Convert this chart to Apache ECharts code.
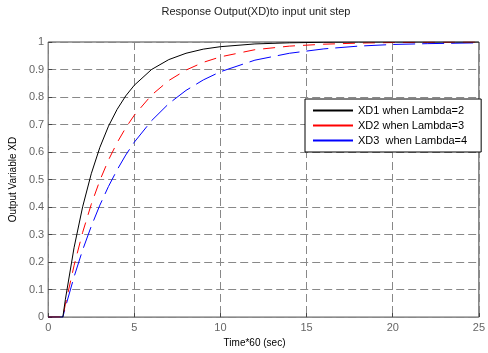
<!DOCTYPE html>
<html>
<head>
<meta charset="utf-8">
<script src="https://cdn.jsdelivr.net/npm/echarts@6/dist/echarts.min.js"></script>
<style>html,body{margin:0;padding:0;background:#fff}#c{width:488px;height:353px}</style>
</head>
<body>
<div id="c"></div>
<script>
var times = [0, 0.85, 1, 1.5, 2, 2.5, 3, 3.5, 4, 4.5, 5, 6, 7, 8, 9, 10, 12, 14, 16, 18, 20, 22, 25];
var xd1 = [0, 0, 0.065, 0.252, 0.401, 0.521, 0.617, 0.694, 0.755, 0.804, 0.843, 0.900, 0.936, 0.959, 0.974, 0.983, 0.993, 0.997, 0.999, 1.0, 1.0, 1.0, 1.0];
var xd2 = [0, 0, 0.047, 0.187, 0.308, 0.410, 0.497, 0.571, 0.634, 0.688, 0.734, 0.807, 0.860, 0.898, 0.926, 0.946, 0.972, 0.985, 0.992, 0.996, 0.998, 0.999, 1.0];
var xd3 = [0, 0, 0.036, 0.146, 0.244, 0.330, 0.407, 0.475, 0.535, 0.589, 0.636, 0.714, 0.776, 0.824, 0.862, 0.892, 0.934, 0.959, 0.975, 0.985, 0.991, 0.994, 0.997];
var seriesNames = ['XD1 when Lambda=2', 'XD2 when Lambda=3', 'XD3  when Lambda=4'];
var seriesColors = ['#000000', '#ff0000', '#0000ff'];
var xTicks = [0, 5, 10, 15, 20, 25];
var yTicks = [0, 0.1, 0.2, 0.3, 0.4, 0.5, 0.6, 0.7, 0.8, 0.9, 1];

function pairs(ys) { return times.map(function (t, i) { return [t, ys[i]]; }); }

var chart = echarts.init(document.getElementById('c'), null, {renderer: 'canvas'});
var font = 'Liberation Sans, Arial, sans-serif';
chart.setOption({
  animation: false,
  backgroundColor: '#fff',
  graphic: [{
    type: 'text', x: 256, y: 12,
    style: {text: 'Response Output(XD)to input unit step', fill: '#222', font: '11px ' + font, textAlign: 'center', textVerticalAlign: 'middle'}
  }],
  grid: {left: 46, right: 8, top: 42, bottom: 18, show: true, borderColor: '#444', borderWidth: 1, backgroundColor: '#fff'},
  legend: {
    orient: 'vertical', left: 305, top: 99,
    backgroundColor: '#fff', borderColor: '#000', borderWidth: 1,
    padding: [5, 14, 5, 8], itemGap: 2, itemWidth: 40, itemHeight: 2,
    icon: 'rect',
    itemStyle: {borderWidth: 0},
    textStyle: {fontSize: 11, fontFamily: font, color: '#000', lineHeight: 13},
    data: seriesNames.map(function (n, i) {
      return {name: n, icon: 'rect', itemStyle: {color: seriesColors[i], borderWidth: 0}};
    })
  },
  xAxis: {
    type: 'value', min: 0, max: 25, interval: 5,
    name: 'Time*60 (sec)', nameLocation: 'middle', nameGap: 11,
    nameTextStyle: {fontSize: 10, fontFamily: font, color: '#000', padding: [0, 18, 0, 0]},
    axisLine: {show: false},
    axisTick: {show: true, inside: true, length: 4, lineStyle: {color: '#444'}},
    axisLabel: {fontSize: 11, fontFamily: font, color: '#666', margin: 5},
    splitLine: {show: true, lineStyle: {color: '#888', type: [8, 4], width: 1}}
  },
  yAxis: {
    type: 'value', min: 0, max: 1, interval: 0.1,
    name: 'Output Variable XD', nameLocation: 'middle', nameGap: 24, nameRotate: 90,
    nameTextStyle: {fontSize: 10, fontFamily: font, color: '#000'},
    axisLine: {show: false},
    axisTick: {show: true, inside: true, length: 4, lineStyle: {color: '#444'}},
    axisLabel: {fontSize: 11, fontFamily: font, color: '#666', margin: 4,
      formatter: function (v) { return String(Math.round(v * 10) / 10); }},
    splitLine: {show: true, lineStyle: {color: '#888', type: [8, 4], width: 1}}
  },
  series: [
    {name: seriesNames[0], type: 'line', data: pairs(xd1), showSymbol: false, symbol: 'none', smooth: false,
     lineStyle: {color: seriesColors[0], width: 1, type: 'solid'}, itemStyle: {color: seriesColors[0]}, z: 5},
    {name: seriesNames[1], type: 'line', data: pairs(xd2), showSymbol: false, symbol: 'none',
     lineStyle: {color: seriesColors[1], width: 1, type: [12, 8]}, itemStyle: {color: seriesColors[1]}, z: 4},
    {name: seriesNames[2], type: 'line', data: pairs(xd3), showSymbol: false, symbol: 'none',
     lineStyle: {color: seriesColors[2], width: 1, type: [22, 7]}, itemStyle: {color: seriesColors[2]}, z: 3}
  ]
});
</script>
</body>
</html>
